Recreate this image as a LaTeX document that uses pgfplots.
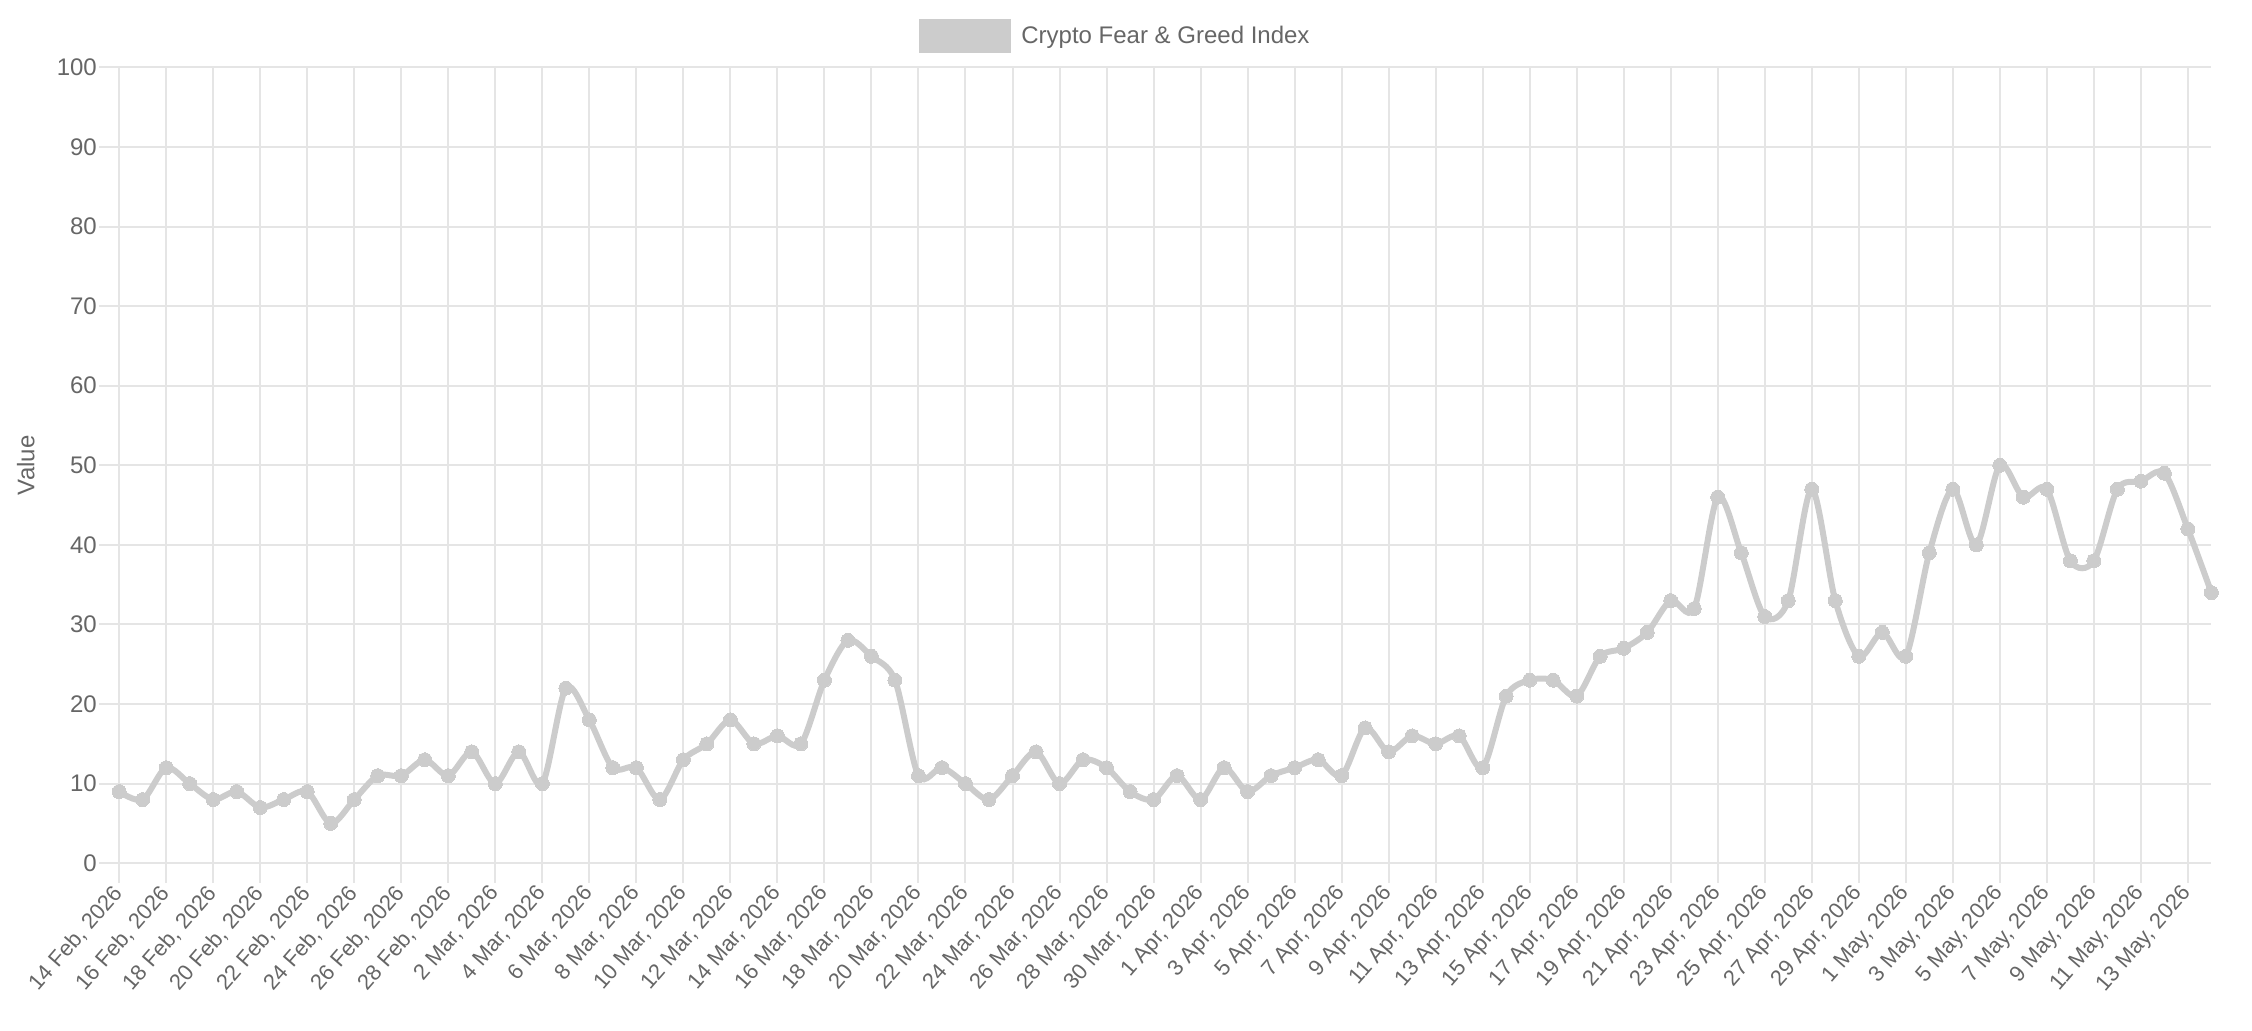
\documentclass[border=0pt]{standalone}
\usepackage{fontspec}
\setmainfont{Liberation Sans}
\usepackage{pgfplots}
\pgfplotsset{compat=1.18}
\usepackage{pgfplotstable}

\definecolor{linegray}{RGB}{204,204,204}
\definecolor{gridgray}{RGB}{229,229,229}
\definecolor{axisgray}{RGB}{168,168,168}
\definecolor{labelgray}{RGB}{102,102,102}
\newcommand\cj{\fontsize{12}{14.4}\selectfont}

% day index (0 = 14 Feb 2026) and index value
\pgfplotstableread{
d v
0 9
1 8
2 12
3 10
4 8
5 9
6 7
7 8
8 9
9 5
10 8
11 11
12 11
13 13
14 11
15 14
16 10
17 14
18 10
19 22
20 18
21 12
22 12
23 8
24 13
25 15
26 18
27 15
28 16
29 15
30 23
31 28
32 26
33 23
34 11
35 12
36 10
37 8
38 11
39 14
40 10
41 13
42 12
43 9
44 8
45 11
46 8
47 12
48 9
49 11
50 12
51 13
52 11
53 17
54 14
55 16
56 15
57 16
58 12
59 21
60 23
61 23
62 21
63 26
64 27
65 29
66 33
67 32
68 46
69 39
70 31
71 33
72 47
73 33
74 26
75 29
76 26
77 39
78 47
79 40
80 50
81 46
82 47
83 38
84 38
85 47
86 48
87 49
88 42
89 34
}\fng

\begin{document}
\begin{tikzpicture}
\begin{axis}[
    scale only axis,
    width=1046.1pt, height=397.9pt,
    xmin=0, xmax=89, ymin=0, ymax=100,
    xtick={0,2,...,88},
    ytick={0,10,...,100},
    xticklabels={{14 Feb, 2026},{16 Feb, 2026},{18 Feb, 2026},{20 Feb, 2026},
        {22 Feb, 2026},{24 Feb, 2026},{26 Feb, 2026},{28 Feb, 2026},
        {2 Mar, 2026},{4 Mar, 2026},{6 Mar, 2026},{8 Mar, 2026},{10 Mar, 2026},
        {12 Mar, 2026},{14 Mar, 2026},{16 Mar, 2026},{18 Mar, 2026},{20 Mar, 2026},
        {22 Mar, 2026},{24 Mar, 2026},{26 Mar, 2026},{28 Mar, 2026},{30 Mar, 2026},
        {1 Apr, 2026},{3 Apr, 2026},{5 Apr, 2026},{7 Apr, 2026},{9 Apr, 2026},
        {11 Apr, 2026},{13 Apr, 2026},{15 Apr, 2026},{17 Apr, 2026},{19 Apr, 2026},
        {21 Apr, 2026},{23 Apr, 2026},{25 Apr, 2026},{27 Apr, 2026},{29 Apr, 2026},
        {1 May, 2026},{3 May, 2026},{5 May, 2026},{7 May, 2026},{9 May, 2026},
        {11 May, 2026},{13 May, 2026}},
    axis line style={draw=none},
    grid=major,
    major grid style={gridgray, line width=1pt},
    tick pos=left,
    tick align=outside,
    major tick length=10pt,
    tick style={gridgray, line width=1pt},
    extra x ticks={0}, extra x tick labels={},
    extra x tick style={grid style={axisgray, line width=1pt}, major tick length=0pt},
    extra y ticks={0}, extra y tick labels={},
    extra y tick style={grid style={axisgray, line width=1pt}, major tick length=0pt},
    ticklabel style={font=\cj, text=labelgray},
    /pgf/number format/assume math mode=true,
    xticklabel style={rotate=49, anchor=east, inner sep=0pt,
        font=\fontsize{11}{13}\selectfont},
    xticklabel shift=3pt,
    yticklabel style={inner xsep=1pt},
    ylabel={Value},
    every axis y label/.style={at={(axis description cs:0,0.5)}, rotate=90,
        anchor=center, yshift=46.7pt, font=\cj, text=labelgray},
    legend style={draw=none, fill=none, at={(0.4757,1)}, anchor=center, yshift=15.7pt,
        font=\cj, text=labelgray, inner sep=0pt, nodes={inner sep=0pt}},
    legend image code/.code={\fill[linegray] (0pt,-7pt) rectangle (43pt,7pt);},
    clip=false,
]
\addplot[linegray, line width=3pt, smooth, tension=0.5,
    mark=*, mark size=3.5pt, mark options={solid, fill=linegray, draw=linegray, line width=0pt}]
    table[x=d, y=v] {\fng};
\addlegendentry{\hspace{5pt}Crypto Fear \& Greed Index}
\end{axis}
\pgfresetboundingbox
\path[use as bounding box] (-59.6pt,-83.4pt) rectangle (1066.4pt,431.6pt);
\end{tikzpicture}
\end{document}
